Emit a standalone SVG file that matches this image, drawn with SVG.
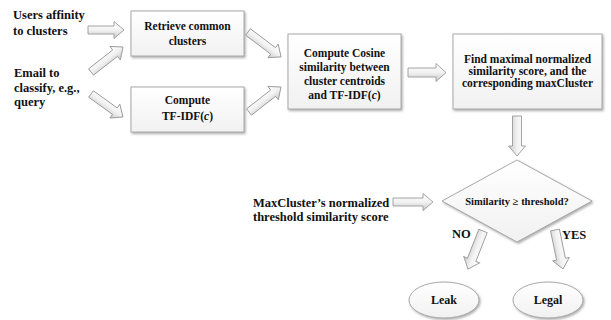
<svg xmlns="http://www.w3.org/2000/svg" width="611" height="320" viewBox="0 0 611 320">
  <style>
    .box { fill: url(#boxFill); stroke: #a9a9a9; stroke-width: 1; filter: url(#shadow); }
    .barrow { fill: url(#arrowFill); stroke: #9a9a9a; stroke-width: 0.9; stroke-linejoin: miter; }
    .t { font-family: 'Liberation Serif', 'DejaVu Serif', serif; font-weight: bold; fill: #111; }
    .lbl { font-size: 12.5px; }
    .in { font-size: 11.5px; text-anchor: middle; }
    .dec { font-size: 10.5px; text-anchor: middle; }
    .end { font-size: 12px; text-anchor: middle; }
  </style>
  <defs>
    <linearGradient id="boxFill" x1="0" y1="0" x2="0" y2="1">
      <stop offset="0" stop-color="#ffffff"/>
      <stop offset="1" stop-color="#f1f1f1"/>
    </linearGradient>
    <linearGradient id="arrowFill" x1="0" y1="0" x2="0" y2="1">
      <stop offset="0" stop-color="#ffffff"/>
      <stop offset="0.5" stop-color="#f2f2f2"/>
      <stop offset="1" stop-color="#c8c8c8"/>
    </linearGradient>
    <filter id="shadow" x="-10%" y="-10%" width="130%" height="140%">
      <feDropShadow dx="1.2" dy="1.5" stdDeviation="0.8" flood-color="#8a8a8a" flood-opacity="0.7"/>
    </filter>
  </defs>

  <g font-family="Liberation Serif, DejaVu Serif, serif" font-weight="bold">
    <!-- input labels -->
    <g id="users-affinity">
      <text class="t lbl" x="13" y="19">Users affinity</text>
      <text class="t lbl" x="13" y="35">to clusters</text>
    </g>
    <g id="email">
      <text class="t lbl" x="14" y="77">Email to</text>
      <text class="t lbl" x="14" y="92">classify, e.g.,</text>
      <text class="t lbl" x="14" y="106">query</text>
    </g>

    <!-- process boxes -->
    <g id="retrieve">
      <rect class="box" x="131" y="11" width="113" height="45"/>
      <text class="t in" x="187.5" y="30">Retrieve common</text>
      <text class="t in" x="187.5" y="45">clusters</text>
    </g>
    <g id="tfidf">
      <rect class="box" x="131" y="87" width="113" height="45"/>
      <text class="t in" x="187.5" y="104">Compute</text>
      <text class="t in" x="187.5" y="120">TF-IDF(<tspan font-style="italic">c</tspan>)</text>
    </g>
    <g id="cosine">
      <rect class="box" x="288" y="34" width="113" height="75"/>
      <text class="t in" x="344.5" y="57">Compute Cosine</text>
      <text class="t in" x="344.5" y="71">similarity between</text>
      <text class="t in" x="344.5" y="85">cluster centroids</text>
      <text class="t in" x="344.5" y="99">and TF-IDF(<tspan font-style="italic">c</tspan>)</text>
    </g>
    <g id="find-max">
      <rect class="box" x="453" y="34" width="149" height="75"/>
      <text class="t in" x="527.5" y="63">Find maximal normalized</text>
      <text class="t in" x="527.5" y="75">similarity score, and the</text>
      <text class="t in" x="527.5" y="87">corresponding maxCluster</text>
    </g>

    <!-- threshold input and decision -->
    <g id="threshold">
      <text class="t lbl" x="253" y="207">MaxCluster’s normalized</text>
      <text class="t lbl" x="253" y="221">threshold similarity score</text>
    </g>
    <g id="decision">
      <polygon class="box" points="517,160 592,201 517,242 442,201"/>
      <text class="t dec" x="517" y="205">Similarity ≥ threshold?</text>
    </g>

    <!-- outcomes -->
    <g id="leak">
      <ellipse class="box" cx="444" cy="300" rx="35" ry="18"/>
      <text class="t end" x="444" y="304">Leak</text>
    </g>
    <g id="legal">
      <ellipse class="box" cx="548" cy="300" rx="35" ry="18"/>
      <text class="t end" x="548" y="304">Legal</text>
    </g>

    <!-- block-arrow connectors -->
    <g id="connectors">
      <path class="barrow" transform="translate(88,30)" d="M0,-4 H26 V-8.5 L36,0 L26,8.5 V4 H0 Z"/>
      <path class="barrow" transform="translate(91,72) rotate(-38)" d="M0,-4 H30.6 V-8.5 L40.6,0 L30.6,8.5 V4 H0 Z"/>
      <path class="barrow" transform="translate(91,94) rotate(35.7)" d="M0,-4 H29.4 V-8.5 L39.4,0 L29.4,8.5 V4 H0 Z"/>
      <path class="barrow" transform="translate(248,32) rotate(37)" d="M0,-4 H31.4 V-8.5 L41.4,0 L31.4,8.5 V4 H0 Z"/>
      <path class="barrow" transform="translate(249,112) rotate(-38)" d="M0,-4 H30.6 V-8.5 L40.6,0 L30.6,8.5 V4 H0 Z"/>
      <path class="barrow" transform="translate(408,72.5)" d="M0,-4.5 H28 V-9 L38,0 L28,9 V4.5 H0 Z"/>
      <path class="barrow" transform="translate(517,116) rotate(90)" d="M0,-4.5 H30 V-8.5 L40,0 L30,8.5 V4.5 H0 Z"/>
      <path class="barrow" transform="translate(393,202)" d="M0,-4 H30 V-8.5 L40,0 L30,8.5 V4 H0 Z"/>
      <path class="barrow" transform="translate(483,231) rotate(111.5)" d="M0,-4.5 H30.9 V-8.5 L40.9,0 L30.9,8.5 V4.5 H0 Z"/>
      <path class="barrow" transform="translate(555,230) rotate(78.4)" d="M0,-4.5 H29.8 V-8.5 L39.8,0 L29.8,8.5 V4.5 H0 Z"/>
    </g>

    <!-- branch labels -->
    <text class="t lbl" x="452" y="238">NO</text>
    <text class="t lbl" x="562" y="239">YES</text>
  </g>
</svg>
